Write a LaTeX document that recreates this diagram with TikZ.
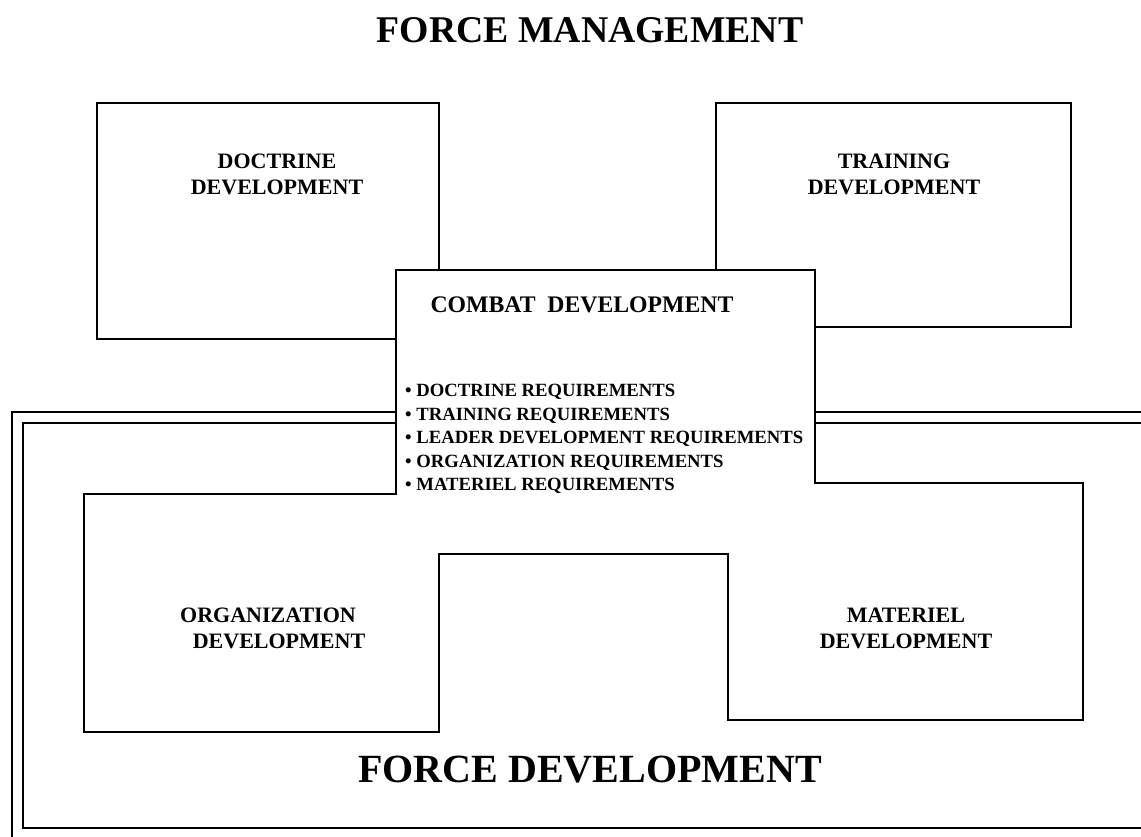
\documentclass[tikz,border=0pt]{standalone}
\usepackage{fontspec}
\setmainfont{Liberation Serif}

\tikzset{every picture/.style={line width=1.8pt}}
\tikzset{
  boxline/.style={draw=black, fill=white, line width=1.8pt},
  unionline/.style={draw=black, line width=3.6pt},
  unionfill/.style={fill=white},
  boxlabel/.style={align=center, font=\bfseries\fontsize{16.5}{19.5}\selectfont, inner sep=0pt},
  reqlist/.style={align=left, anchor=west, font=\bfseries\fontsize{14}{17.6}\selectfont, inner sep=0pt},
}

\begin{document}
\begin{tikzpicture}[x=0.75pt,y=0.75pt,yscale=-1,xscale=1]
\useasboundingbox (0,0) rectangle (1141,837);

%Shape: Frame [id:dp_outer]
\draw (1141,412) -- (12,412) -- (12,837) ;
%Shape: Frame [id:dp_inner]
\draw (1141,423) -- (23,423) -- (23,828) -- (1141,828) ;

%Shape: Rectangle [id:dp_doctrine]
\draw [boxline] (97,103) rectangle (439,339) ;
%Shape: Rectangle [id:dp_training]
\draw [boxline] (716,103) rectangle (1071,327) ;

%Shape: Rectangle [id:dp_combat]
\draw [unionline] (397,271) rectangle (814,553) ;
%Shape: Rectangle [id:dp_organization]
\draw [unionline] (85,495) rectangle (438,731) ;
%Shape: Rectangle [id:dp_materiel]
\draw [unionline] (729,484) rectangle (1082,719) ;
\fill [unionfill] (397,271) rectangle (814,553) ;
\fill [unionfill] (85,495) rectangle (438,731) ;
\fill [unionfill] (729,484) rectangle (1082,719) ;

% Text Node
\node (title) at (590,30) {\bfseries\fontsize{28.3}{34}\selectfont FORCE MANAGEMENT};
% Text Node
\node [boxlabel] (doctrine) at (277,174) {DOCTRINE\\DEVELOPMENT};
% Text Node
\node [boxlabel] (training) at (894,174) {TRAINING\\DEVELOPMENT};
% Text Node
\node [boxlabel, font=\bfseries\fontsize{17.8}{21}\selectfont] (combat) at (582,305) {COMBAT\ \ DEVELOPMENT};
% Text Node
\node [reqlist] (reqs) at (404,439) {\textbullet\ DOCTRINE REQUIREMENTS\\\textbullet\ TRAINING REQUIREMENTS\\\textbullet\ LEADER DEVELOPMENT REQUIREMENTS\\\textbullet\ ORGANIZATION REQUIREMENTS\\\textbullet\ MATERIEL REQUIREMENTS};
% Text Node
\node [boxlabel] (organization) at (268,628) {ORGANIZATION\\\hspace*{1em}DEVELOPMENT};
% Text Node
\node [boxlabel] (materiel) at (906,628) {MATERIEL\\DEVELOPMENT};
% Text Node
\node (forcedev) at (590,770) {\bfseries\fontsize{30}{36}\selectfont FORCE DEVELOPMENT};

\end{tikzpicture}
\end{document}
